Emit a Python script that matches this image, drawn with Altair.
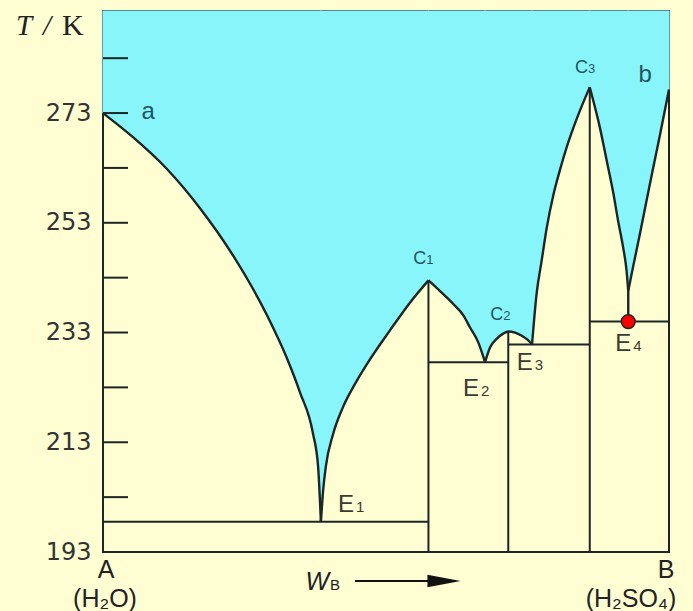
import altair as alt
import pandas as pd

# ---------------- data ----------------
# liquidus curve: composition w_B (% of the A-B axis) and temperature T/K
liq_x = [0, 5.3, 11.3, 17.1, 23.0, 29.0, 32.5, 34.8, 37.1, 38.0, 38.5,
         38.9, 39.4, 40.6, 42.4, 44.5, 46.6, 50.7, 54.2, 57.5,
         59.5, 61.9, 63.7, 64.8, 66.3, 67.5,
         68.4, 69.6, 70.7, 71.6, 72.8, 74.0, 75.0, 75.8,
         76.6, 77.5, 78.4, 79.6, 80.7, 81.9, 83.1, 84.6, 86.0,
         87.8, 89.0, 90.2, 91.0, 91.9, 92.5, 92.8,
         93.7, 94.9, 96.1, 97.2, 98.4, 100]
liq_T = [273.0, 268.6, 262.8, 255.7, 247.0, 236.1, 228.3, 222.1, 214.6, 208.6, 198.5,
         204.3, 208.8, 214.3, 219.4, 223.6, 227.2, 233.4, 238.4, 242.5,
         240.6, 238.2, 236.1, 234.0, 231.2, 227.6,
         230.3, 231.9, 232.8, 233.2, 233.0, 232.4, 231.7, 230.8,
         240.0, 246.1, 252.1, 258.2, 262.5, 266.7, 270.3, 274.3, 277.7,
         270.3, 264.3, 258.2, 253.4, 248.5, 244.3, 240.6,
         245.2, 251.2, 257.4, 263.0, 269.0, 277.3]
# indices of the sharp points (a, E1, C1, E2, E3, C3, E4 cusp, b)
cusp_idx = [0, 10, 19, 25, 33, 42, 49, 55]

# eutectic (horizontal) lines
eut_T = [198.5, 227.6, 230.8, 235.0]
eut_x1 = [0, 57.5, 71.6, 86.0]
eut_x2 = [57.5, 71.6, 86.0, 100]

# compounds (vertical lines from their melting point down)
comp_x = [57.5, 71.6, 86.0]
comp_T = [242.5, 233.2, 277.7]

# E4 stem and point
e4_x = [92.8]
e4_T = [235.0]
e4_top = [240.6]

# axis
T_MIN, T_MAX = 193, 291.6
tick_vals = [203, 213, 223, 233, 243, 253, 263, 273, 283]
label_vals = [193, 213, 233, 253, 273]

# point labels: main letter, subscript, left edge (w_B) and baseline (T)
lab_main = ["C", "C", "C", "E", "E", "E", "E"]
lab_sub = ["1", "2", "3", "1", "2", "3", "4"]
lab_x = [54.8, 68.4, 83.4, 41.5, 63.6, 73.1, 90.5]
lab_T = [245.4, 235.3, 280.3, 200.3, 221.5, 226.1, 229.6]
lab_kind = ["c", "c", "c", "e", "e", "e", "e"]

ab_text = ["a", "b"]
ab_x = [8.0, 95.8]
ab_T = [273.2, 279.9]

# ---------------- styles ----------------
CREAM = "#FFFDD2"
CYAN = "#88F5FB"
LINE = "#1b2626"
TEAL = "#1d5660"
FONT = "Liberation Sans"

xs = alt.Scale(domain=[0, 100], nice=False, zero=False)
ys = alt.Scale(domain=[T_MIN, T_MAX], nice=False, zero=False)
yaxis = alt.Axis(values=label_vals, domain=False, ticks=False, grid=False, title=None,
                 labelFont="DejaVu Sans", labelFontSize=24, labelColor="#333333",
                 labelPadding=12, labelFlush=False, labelOverlap=False)


def X(f):
    return alt.X(f, type="quantitative", scale=xs, axis=None)


def Y(f):
    return alt.Y(f, type="quantitative", scale=ys, axis=yaxis)


rows = []
for b in range(len(cusp_idx) - 1):
    for i in range(cusp_idx[b], cusp_idx[b + 1] + 1):
        rows.append({"x": liq_x[i], "T": liq_T[i], "top": T_MAX, "br": b})
liq = pd.DataFrame(rows)

eut = pd.DataFrame({"x": eut_x1, "x2": eut_x2, "T": eut_T})
comp = pd.DataFrame({"x": comp_x, "T": comp_T, "b": [T_MIN] * len(comp_x)})
stem = pd.DataFrame({"x": e4_x, "T": e4_T, "t2": e4_top})
ticks = pd.DataFrame({"T": tick_vals})
labs = pd.DataFrame({"x": lab_x, "T": lab_T, "m": lab_main, "s": lab_sub, "k": lab_kind})
abl = pd.DataFrame({"x": ab_x, "T": ab_T, "t": ab_text})

area = alt.Chart(liq).mark_area(color=CYAN, opacity=1, interpolate="monotone",
                                stroke=CYAN, strokeWidth=1.2).encode(
    x=X("x"), y=Y("T"), y2="top", detail="br:N")

line = alt.Chart(liq).mark_line(color=LINE, strokeWidth=2.4, interpolate="monotone").encode(
    x=X("x"), y=Y("T"), detail="br:N")

eut_l = alt.Chart(eut).mark_rule(color=LINE, strokeWidth=2).encode(
    x=X("x"), x2="x2", y=Y("T"))

comp_l = alt.Chart(comp).mark_rule(color=LINE, strokeWidth=2).encode(
    x=X("x"), y=Y("T"), y2="b")

stem_l = alt.Chart(stem).mark_rule(color=LINE, strokeWidth=2.4).encode(
    x=X("x"), y=Y("T"), y2="t2")

tick_l = alt.Chart(ticks).mark_rule(color=LINE, strokeWidth=2).encode(
    y=Y("T"), x=alt.value(0), x2=alt.value(25))

dot = alt.Chart(stem).mark_point(filled=True, color="#FF0000", stroke="#222222",
                                 strokeWidth=1.5, opacity=1, size=190).encode(
    x=X("x"), y=Y("T"))

ab_lab = alt.Chart(abl).mark_text(
    font=FONT, fontSize=24, color=TEAL, align="center", baseline="middle").encode(
    x=X("x"), y=Y("T"), text="t")

c_main = alt.Chart(labs).transform_filter("datum.k == 'c'").mark_text(
    font=FONT, fontSize=18, color=TEAL, align="left", baseline="alphabetic").encode(
    x=X("x"), y=Y("T"), text="m")
c_sub = alt.Chart(labs).transform_filter("datum.k == 'c'").mark_text(
    font=FONT, fontSize=13, color=TEAL, align="left", baseline="alphabetic", dx=13).encode(
    x=X("x"), y=Y("T"), text="s")
e_main = alt.Chart(labs).transform_filter("datum.k == 'e'").mark_text(
    font=FONT, fontSize=24, color="#3a3a32", align="left", baseline="alphabetic").encode(
    x=X("x"), y=Y("T"), text="m")
e_sub = alt.Chart(labs).transform_filter("datum.k == 'e'").mark_text(
    font=FONT, fontSize=15, color="#3a3a32", align="left", baseline="alphabetic", dx=18).encode(
    x=X("x"), y=Y("T"), text="s")

one = pd.DataFrame({"d": [0]})


def txt(s, x, y, size=22, font=FONT, style="normal", align="center", color="#222222",
        baseline="alphabetic"):
    return alt.Chart(one).mark_text(text=s, font=font, fontSize=size, fontStyle=style,
                                    align=align, baseline=baseline, color=color).encode(
        x=alt.value(x), y=alt.value(y))


title_T = txt("T", -87, 24, size=29, font="Liberation Serif", style="italic", align="left")
title_sl = txt("/", -56, 24, size=29, font="Liberation Serif", style="italic", align="center")
title_K = txt("K", -41, 24, size=30, font="Liberation Serif", align="left")
lab_A = txt("A", 3, 567, size=25)
lab_H2O = txt("(H\u2082O)", 2, 596, size=25)
lab_B = txt("B", 563, 567, size=25)
lab_H2SO4 = txt("(H\u2082SO\u2084)", 528, 596, size=25)
lab_W = txt("W", 226, 579, size=25, style="italic", align="right")
lab_Wb = txt("B", 227, 579, size=15, align="left")

arrow_shaft = alt.Chart(one).mark_rule(color="#111111", strokeWidth=2).encode(
    x=alt.value(252), x2=alt.value(330), y=alt.value(570))
arrow_head = alt.Chart(one).mark_point(shape="M-1,-0.38L1,0L-1,0.38Z", filled=True,
                                       color="#111111", opacity=1, size=1100).encode(
    x=alt.value(341), y=alt.value(570))

chart = alt.layer(
    area, eut_l, comp_l, stem_l, tick_l, line, dot,
    ab_lab, c_main, c_sub, e_main, e_sub,
    title_T, title_sl, title_K, lab_A, lab_H2O, lab_B, lab_H2SO4, lab_W, lab_Wb,
    arrow_shaft, arrow_head,
).properties(
    width=566, height=541,
    background=CREAM,
    padding={"left": 103, "top": 11, "right": 24, "bottom": 59},
    autosize=alt.AutoSizeParams(type="none"),
).configure_view(stroke=LINE, strokeWidth=2, fill=CREAM)

chart.save("out.html", embed_options={"renderer": "svg", "actions": False})
